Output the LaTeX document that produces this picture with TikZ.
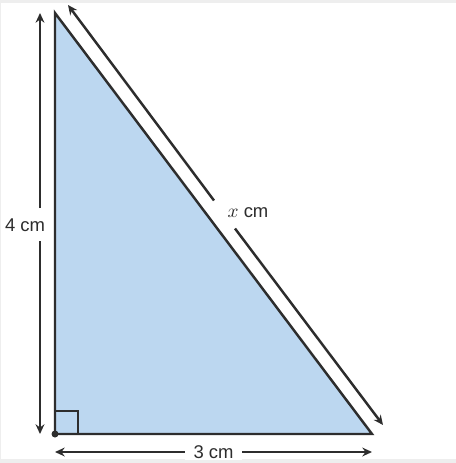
\documentclass[tikz,border=0pt]{standalone}
\usepackage{fontspec}
\setmainfont{Liberation Sans}
\usetikzlibrary{arrows.meta}
\definecolor{tri}{RGB}{188,215,240}
\definecolor{ink}{RGB}{45,45,45}
\definecolor{rim}{RGB}{238,238,238}
\begin{document}
\begin{tikzpicture}[x=0.02cm,y=-0.02cm,>={Stealth[length=5.5pt,width=5pt]},
  line width=1.4pt,draw=ink,
  lab/.style={font=\fontsize{10.5}{12}\selectfont,text=ink,inner sep=1pt}]
\useasboundingbox (0,0) rectangle (456,463);
\fill[rim](0,0)rectangle(456,463);
\fill[white](1,3)rectangle(456,459);
% triangle
\coordinate(A)at(55,13);
\coordinate(C)at(55,434);
\coordinate(B)at(372,434);
\filldraw[fill=tri,line join=miter](A)--(C)--(B)--cycle;
\draw[line width=1.1pt](C)rectangle(78,411);
\fill[ink](C)circle(3.5);
% 4 cm
\node[lab](l4)at(25,225){4 cm};
\coordinate(v1)at(40,13);\coordinate(v2)at(40,208);
\coordinate(v3)at(40,241);\coordinate(v4)at(40,434);
\draw[->](v2)--(v1);
\draw[->](v3)--(v4);
% 3 cm
\coordinate(h1)at(55,452);\coordinate(h2)at(372,452);
\draw[<->](h1)--node[lab,fill=white,inner xsep=5pt](l3){3 cm}(h2);
% x cm
\coordinate(d1)at(68,5);\coordinate(d2)at(214,200.5);
\coordinate(d3)at(235,228.5);\coordinate(d4)at(383,425);
\node[lab](lx)at(248,213){$x$ cm};
\draw[->](d2)--(d1);
\draw[->](d3)--(d4);
\end{tikzpicture}
\end{document}
